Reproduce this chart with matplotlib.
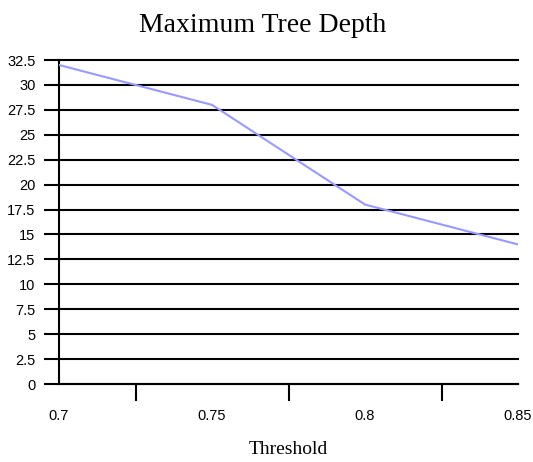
import matplotlib
matplotlib.use('Agg')
import matplotlib.pyplot as plt
import numpy as np

# data
thresholds = [0.7, 0.75, 0.8, 0.85]
max_depth = [32, 28, 18, 14]
y_ticks = np.arange(0, 32.5 + 0.01, 2.5)
x_labels = ['0.7', '0.75', '0.8', '0.85']

fig = plt.figure(figsize=(5.33, 4.62), dpi=100)
ax = fig.add_axes([0.1107, 0.1688, 0.8612, 0.7013])

ax.plot(thresholds, max_depth, color='#9999ff', lw=1.5, zorder=3)

ax.set_xlim(0.7, 0.85)
ax.set_ylim(0, 32.5)

# horizontal gridlines, black and thick
ax.set_yticks(y_ticks)
ax.set_yticklabels(['%g' % v for v in y_ticks])
ax.grid(axis='y', color='black', lw=1.5)
ax.set_axisbelow(True)
for gl in ax.get_ygridlines():
    gl.set_clip_on(False)

# category-style x axis: ticks between the labels
ax.set_xticks([0.725, 0.775, 0.825])
ax.set_xticklabels([])
ax.set_xticks(thresholds, minor=True)
ax.set_xticklabels(x_labels, minor=True)
ax.tick_params(axis='x', which='minor', length=0, pad=18, labelsize=10.5)
ax.tick_params(axis='x', which='major', length=12, width=1.5, direction='out')
ax.tick_params(axis='y', length=11, width=1.5, direction='out', pad=6, labelsize=10.5)

for s in ['top', 'right']:
    ax.spines[s].set_visible(False)
ax.spines['left'].set_linewidth(1.5)
ax.spines['bottom'].set_linewidth(1.5)

for lab in ax.get_xticklabels(minor=True) + ax.get_yticklabels():
    lab.set_fontfamily('Liberation Sans')

fig.text(0.492, 0.945, 'Maximum Tree Depth', ha='center', va='center',
         fontsize=20, family='Liberation Serif')
fig.text(0.54, 0.026, 'Threshold', ha='center', va='center',
         fontsize=14, family='Liberation Serif')

fig.savefig('out.png', dpi=100)
